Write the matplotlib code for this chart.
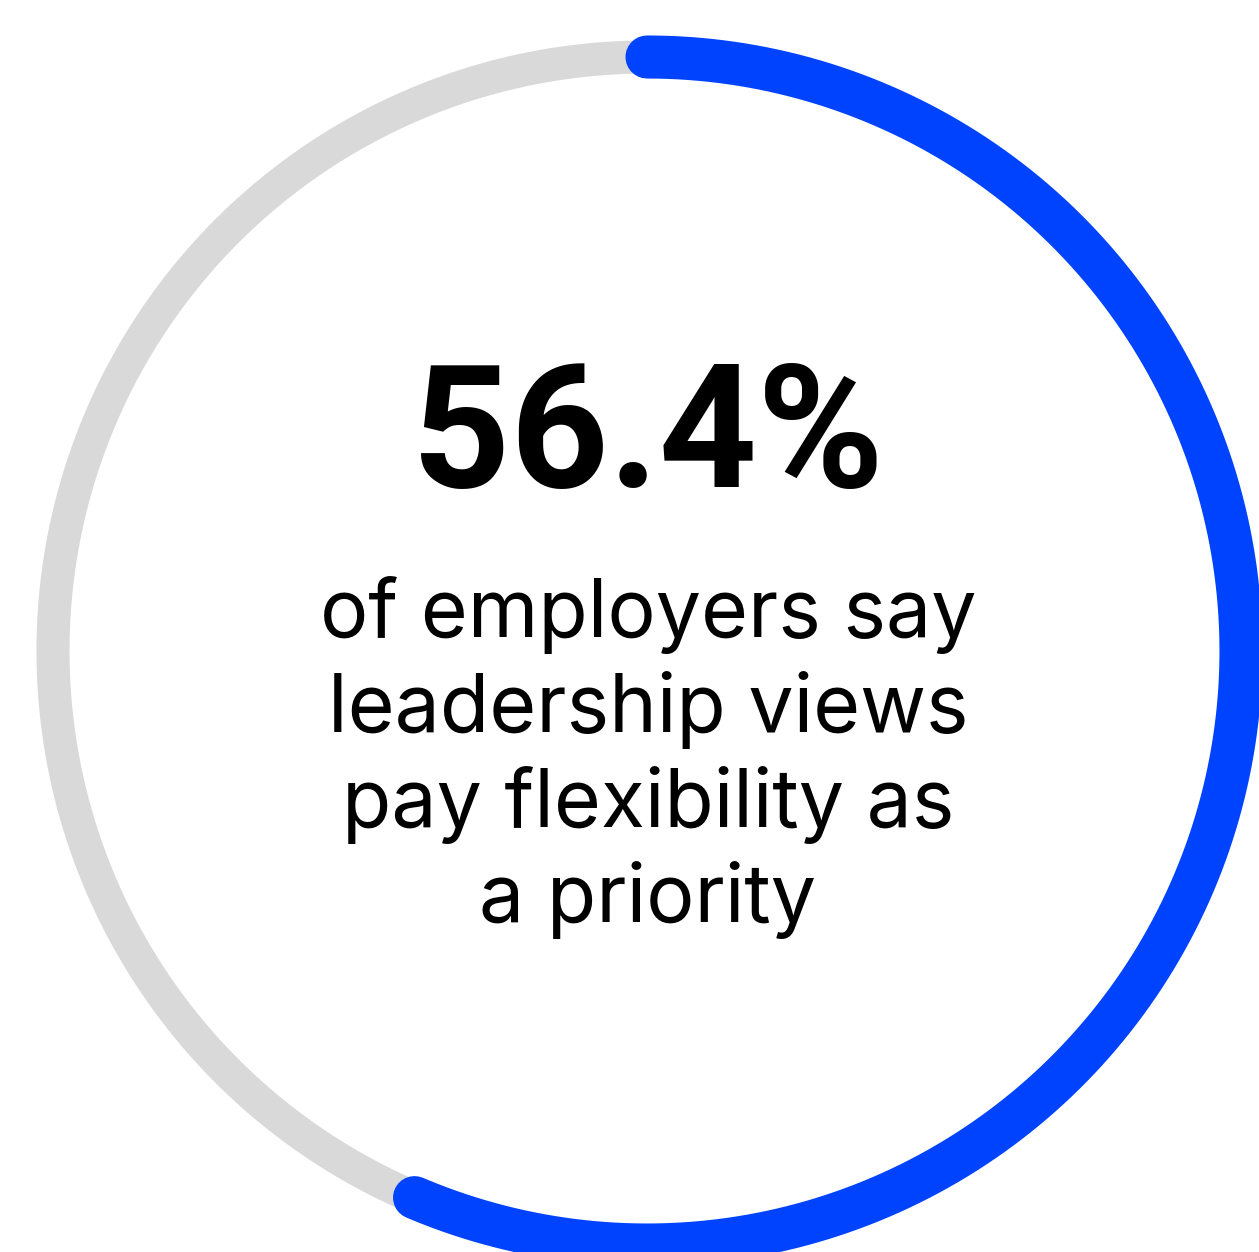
import matplotlib.pyplot as plt
import numpy as np

# share of employers
value = 56.4
headline = "56.4%"
caption_lines = ["of employers say", "leadership views", "pay flexibility as", "a priority"]

blue = "#0043ff"
grey = "#d9d9d9"

W, H = 1259, 1252
cx, cy, radius = 647, 651, 594

fig = plt.figure(figsize=(W / 100, H / 100), dpi=100)

# ring drawn in a polar axes centred on the circle
ax = fig.add_axes([(cx - radius) / W, (H - cy - radius) / H, 2 * radius / W, 2 * radius / H],
                  projection="polar")
ax.set_theta_zero_location("N")
ax.set_theta_direction(-1)
ax.set_ylim(0, 1)
ax.axis("off")

theta_full = np.linspace(0, 2 * np.pi, 721)
ax.plot(theta_full, np.ones_like(theta_full), color=grey, lw=23.8,
        solid_capstyle="butt", clip_on=False)

theta_val = np.linspace(0, 2 * np.pi * value / 100, 400)
ax.plot(theta_val, np.ones_like(theta_val), color=blue, lw=31,
        solid_capstyle="round", clip_on=False)

# text layer in pixel coordinates
tx = fig.add_axes([0, 0, 1, 1])
tx.set_xlim(0, W)
tx.set_ylim(H, 0)
tx.axis("off")
tx.patch.set_alpha(0)

tx.text(648, 487, headline, ha="center", va="baseline", fontsize=123.5,
        fontweight="bold", family="Roboto", color="black")

for i, line in enumerate(caption_lines):
    tx.text(648, 637 + 95 * i, line, ha="center", va="baseline", fontsize=58,
            family="Inter", color="black")

fig.savefig("out.png", dpi=100)
